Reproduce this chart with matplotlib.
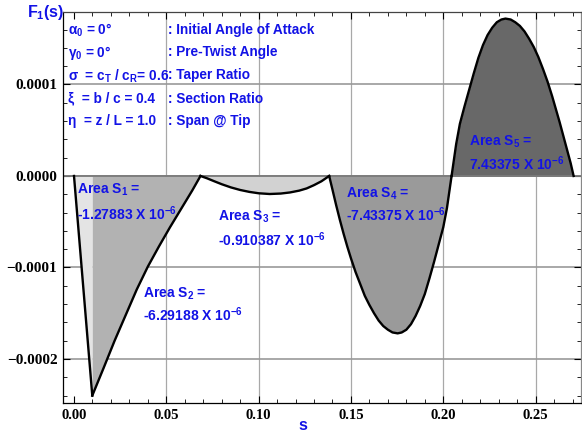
import numpy as np
import matplotlib
matplotlib.use('Agg')
import matplotlib.pyplot as plt
from matplotlib.ticker import MultipleLocator

# F1(s) along s, one lobe per area (values in units of 1e-4)
s1 = [0.0, 0.0099]
f1 = [0.0, -2.40]
s2 = [0.0099, 0.0160, 0.0220, 0.0280, 0.0340, 0.0400, 0.0460, 0.0520, 0.0580, 0.0640, 0.0685]
f2 = [-2.40, -2.10, -1.80, -1.52, -1.24, -0.99, -0.77, -0.56, -0.36, -0.16, 0.0]
s3 = [0.0685, 0.0720, 0.0760, 0.0800, 0.0850, 0.0900, 0.0950, 0.1000, 0.1060,
      0.1120, 0.1170, 0.1220, 0.1260, 0.1300, 0.1340, 0.1382]
f3 = [0.0, -0.025, -0.058, -0.090, -0.125, -0.153, -0.174, -0.189, -0.197,
      -0.192, -0.180, -0.160, -0.136, -0.100, -0.058, 0.0]
s4 = [0.1382, 0.1400, 0.1420, 0.1440, 0.1460, 0.1480, 0.1500, 0.1525, 0.1550,
      0.1575, 0.1600, 0.1625, 0.1650, 0.1675, 0.1700, 0.1725, 0.1753, 0.1775,
      0.1800, 0.1825, 0.1850, 0.1875, 0.1900, 0.1925, 0.1950, 0.1975, 0.2000,
      0.2020, 0.2045]
f4 = [0.0, -0.15, -0.32, -0.48, -0.63, -0.77, -0.90, -1.05, -1.18,
      -1.31, -1.41, -1.50, -1.58, -1.64, -1.68, -1.71, -1.72, -1.71,
      -1.68, -1.62, -1.53, -1.42, -1.29, -1.12, -0.94, -0.75, -0.56,
      -0.35, 0.0]
s5 = [0.2045, 0.2070, 0.2090, 0.2115, 0.2140, 0.2165, 0.2190, 0.2215, 0.2240,
      0.2265, 0.2290, 0.2315, 0.2337, 0.2365, 0.2390, 0.2415, 0.2440, 0.2465,
      0.2490, 0.2515, 0.2540, 0.2565, 0.2590, 0.2610, 0.2630, 0.2650, 0.2670,
      0.2690, 0.2706]
f5 = [0.0, 0.35, 0.57, 0.76, 0.94, 1.12, 1.29, 1.43, 1.54,
      1.62, 1.68, 1.71, 1.72, 1.71, 1.68, 1.64, 1.58, 1.50,
      1.41, 1.30, 1.17, 1.03, 0.87, 0.73, 0.59, 0.44, 0.29,
      0.14, 0.0]

area_names = ['1', '2', '3', '4', '5']
area_values = ['-1.27883', '-6.29188', '-0.910387', '-7.43375', '7.43375']

param_left = [r'α$_\mathregular{0}$ = 0°', r'γ$_\mathregular{0}$ = 0°',
              r'σ  = c$_\mathregular{T}$ / c$_\mathregular{R}$= 0.6', r'ξ  = b / c = 0.4',
              r'η  = z / L = 1.0']
param_right = [': Initial Angle of Attack', ': Pre-Twist Angle', ': Taper Ratio',
               ': Section Ratio', ': Span @ Tip']

x_ticks = [0.00, 0.05, 0.10, 0.15, 0.20, 0.25]
y_ticks = [-0.0002, -0.0001, 0.0, 0.0001]
y_ticklabels = ['\u22120.0002', '\u22120.0001', '0.0000', '0.0001']

blue = '#1212e6'
sans = ['Liberation Sans', 'DejaVu Sans']
plt.rcParams['mathtext.fontset'] = 'custom'
plt.rcParams['mathtext.rm'] = 'Liberation Sans:bold'
plt.rcParams['mathtext.bf'] = 'Liberation Sans:bold'
plt.rcParams['mathtext.it'] = 'Liberation Sans:bold'

fig = plt.figure(figsize=(5.82, 4.33), dpi=100)
ax = fig.add_axes([63 / 582, 30 / 433, 518 / 582, 391 / 433])

scale = 1e-4
segments = [(s1, f1, '#e4e4e4'), (s2, f2, '#b2b2b2'), (s3, f3, '#d2d2d2'),
            (s4, f4, '#9a9a9a'), (s5, f5, '#686868')]

# grid
for xv in x_ticks[1:]:
    ax.axvline(xv, color='#a8a8a8', lw=0.9, zorder=1)
for yv in y_ticks:
    ax.axhline(yv, color='#999999', lw=1.2, zorder=1)

for s, f, c in segments:
    fy = np.array(f) * scale
    ax.fill_between(s, fy, 0, color=c, lw=0, zorder=2)
ax.axhline(0, color='#7a7a7a', lw=1.3, zorder=2.5)
for s, f, c in segments:
    ax.plot(s, np.array(f) * scale, color='black', lw=1.7, zorder=3,
            solid_joinstyle='round')

# area labels
label_pos = [(0.0016, -0.131e-4, -0.393e-4), (0.0374, -1.268e-4, -1.497e-4),
             (0.0780, -0.426e-4, -0.678e-4), (0.1473, -0.175e-4, -0.404e-4),
             (0.2140, 0.393e-4, 0.153e-4)]
for (x, y1, y2), n, v in zip(label_pos, area_names, area_values):
    ax.text(x, y1, r'Area S$_\mathregular{%s}$ =' % n, color=blue, fontsize=10,
            fontweight='bold', family=sans, ha='left', va='center_baseline', zorder=4)
    ax.text(x, y2, v + r' X 10$^\mathregular{-6}$', color=blue, fontsize=10,
            fontweight='bold', family=sans, ha='left', va='center_baseline', zorder=4)

# parameter table
row_y = [1.617e-4, 1.366e-4, 1.115e-4, 0.863e-4, 0.612e-4]
for y, lt, rt in zip(row_y, param_left, param_right):
    ax.text(-0.00325, y, lt, color=blue, fontsize=9.8, fontweight='bold',
            family=sans, ha='left', va='center_baseline', zorder=4)
    ax.text(0.0509, y, rt, color=blue, fontsize=9.8, fontweight='bold',
            family=sans, ha='left', va='center_baseline', zorder=4)

ax.set_xlim(-0.00596, 0.2746)
ax.set_ylim(-0.0002481, 0.0001792)
ax.set_xticks(x_ticks)
ax.set_xticklabels(['%.2f' % t for t in x_ticks], family='Liberation Serif',
                   fontweight='bold', fontsize=10.5)
ax.set_yticks(y_ticks)
ax.set_yticklabels(y_ticklabels, family='Liberation Serif', fontweight='bold',
                   fontsize=11)
ax.xaxis.set_minor_locator(MultipleLocator(0.01))
ax.yaxis.set_minor_locator(MultipleLocator(0.00002))
ax.tick_params(which='both', direction='in', top=True, right=True)
ax.tick_params(which='major', length=5, width=0.8, pad=4)
ax.tick_params(which='minor', length=3, width=0.6)
for sp in ax.spines.values():
    sp.set_linewidth(0.9)
ax.spines['top'].set_color('#444444')
ax.spines['right'].set_color('#888888')

fig.text(27 / 582, 1 - 13 / 433, r'F$_\mathregular{1}$(s)', color=blue, fontsize=11.5,
         fontweight='bold', family=sans, ha='left', va='center')
fig.text(303 / 582, 1 - 426 / 433, 's', color=blue, fontsize=11.5,
         fontweight='bold', family=sans, ha='center', va='center')

fig.savefig('out.png', dpi=100)
